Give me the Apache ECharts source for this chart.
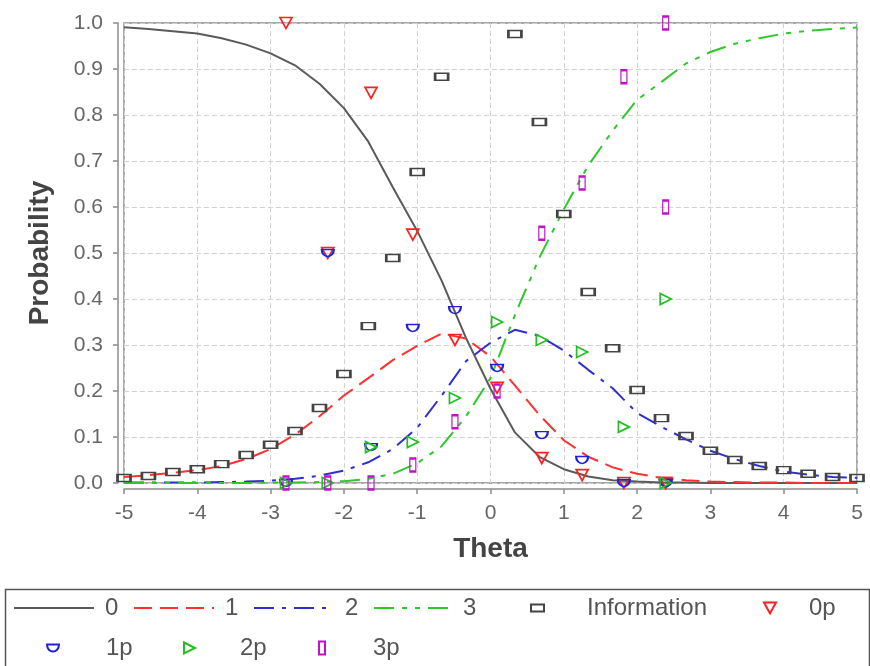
<!DOCTYPE html>
<html>
<head>
<meta charset="utf-8">
<script src="https://cdn.jsdelivr.net/npm/echarts@6/dist/echarts.min.js"></script>
<style>
html,body{margin:0;padding:0;background:#fff;}
#chart{width:870px;height:666px;}
</style>
</head>
<body>
<div id="chart"></div>
<script>
// ---- data ----
const thetaGrid = [-5,-4.667,-4.333,-4,-3.667,-3.333,-3,-2.667,-2.333,-2,-1.667,-1.333,-1,-0.667,-0.333,0,0.333,0.667,1,1.333,1.667,2,2.333,2.667,3,3.333,3.667,4,4.333,4.667,5];
const prob0 = [0.991,0.987,0.982,0.977,0.967,0.953,0.934,0.908,0.868,0.815,0.742,0.643,0.548,0.44,0.315,0.205,0.11,0.057,0.03,0.014,0.006,0.003,0.001,0.001,0,0,0,0,0,0,0];
const prob1 = [0.013,0.017,0.022,0.028,0.037,0.052,0.074,0.105,0.145,0.19,0.228,0.267,0.298,0.325,0.314,0.275,0.212,0.148,0.093,0.057,0.034,0.02,0.011,0.006,0.003,0.002,0.001,0.001,0,0,0];
const prob2 = [0.001,0.001,0.001,0.001,0.002,0.003,0.005,0.009,0.016,0.027,0.045,0.074,0.12,0.19,0.265,0.305,0.333,0.32,0.288,0.246,0.206,0.152,0.122,0.095,0.07,0.052,0.037,0.025,0.018,0.013,0.011];
const prob3 = [0,0,0,0,0,0,0.001,0.001,0.002,0.004,0.009,0.02,0.043,0.08,0.145,0.228,0.365,0.49,0.595,0.69,0.766,0.833,0.872,0.912,0.937,0.955,0.967,0.977,0.983,0.987,0.99];
const information = [0.011,0.015,0.024,0.03,0.041,0.061,0.083,0.113,0.163,0.237,0.341,0.489,0.676,0.883,1.06,1.07,0.976,0.785,0.585,0.415,0.293,0.202,0.141,0.102,0.07,0.05,0.037,0.028,0.02,0.013,0.011];

const groupTheta = [-2.79,-2.22,-1.63,-1.06,-0.485,0.09,0.70,1.25,1.82,2.39,2.39];
const obs0 = [1.0,0.5,0.848,0.54,0.311,0.207,0.054,0.017,0,0,0];
const obs1 = [0,0.5,0.078,0.337,0.376,0.25,0.104,0.05,0,0,0];
const obs2 = [0,0,0.078,0.089,0.185,0.35,0.311,0.285,0.122,0.4,0];
const obs3 = [0,0,0,0.039,0.133,0.2,0.543,0.652,0.883,0.6,1.0];

const xTicks = [-5,-4,-3,-2,-1,0,1,2,3,4,5];
const yTicks = [0,0.1,0.2,0.3,0.4,0.5,0.6,0.7,0.8,0.9,1.0];

// ---- styles ----
const FONT = 'Liberation Sans, Arial, sans-serif';
const pair = (xs, ys) => xs.map((x, i) => [x, ys[i]]);

const SYM = {
  info: 'rect',
  p0: 'path://M0,0 L12,0 L6,11 Z',
  p1: 'path://M0,0 L12,0 C12,4.5 9,7 6,7 C3,7 0,4.5 0,0 Z',
  p2: 'path://M0,0 L11,5.5 L0,11 Z',
  p3: 'rect'
};

function lineSeries(name, data, color, dash, width) {
  return {
    name, type: 'line', data: pair(thetaGrid, data), symbol: 'none', showSymbol: false, smooth: false,
    color, lineStyle: {color, width: width || 2, type: dash}, z: 2, silent: true
  };
}
function scatterSeries(name, xs, ys, symbol, size, color, bw) {
  return {
    name, type: 'scatter', data: pair(xs, ys), symbol, symbolSize: size, clip: true,
    color,
    itemStyle: {color: 'rgba(0,0,0,0)', borderColor: color, borderWidth: bw || 1.7, opacity: 1},
    z: 3, silent: true
  };
}

function legendItem(name, left, centerY, w, h, icon, pad, isLine) {
  const it = {name};
  if (icon) it.icon = icon;
  const lg = {
    data: [it], left, top: centerY - 13, itemWidth: w, itemHeight: h, padding: 0,
    selectedMode: false, orient: 'horizontal',
    formatter: n => '{p|' + n + '}',
    textStyle: {
      fontFamily: FONT, fontSize: 24, color: '#555',
      rich: {p: {fontFamily: FONT, fontSize: 24, color: '#555', padding: [0, 0, 0, pad], height: 26, lineHeight: 26}}
    }
  };
  if (isLine) lg.itemStyle = {color: 'rgba(0,0,0,0)', borderColor: 'rgba(0,0,0,0)', borderWidth: 0, opacity: 0};
  return lg;
}

const chart = echarts.init(document.getElementById('chart'), null, {renderer: 'canvas'});
chart.setOption({
  animation: false,
  backgroundColor: '#fff',
  grid: {left: 124, right: 13, top: 23, bottom: 183, show: true, borderColor: '#8c8c8c', borderWidth: 1.5, backgroundColor: '#fff'},
  xAxis: {
    type: 'value', min: xTicks[0], max: xTicks[xTicks.length - 1], interval: 1, offset: 6,
    name: 'Theta', nameLocation: 'middle', nameGap: 46,
    nameTextStyle: {fontFamily: FONT, fontSize: 28, fontWeight: 'bold', color: '#444'},
    axisLine: {show: true, onZero: false, lineStyle: {color: '#8c8c8c', width: 1.5}},
    axisTick: {show: true, length: 5, lineStyle: {color: '#8c8c8c', width: 1.5}},
    axisLabel: {margin: 14, fontFamily: FONT, fontSize: 21, color: '#666'},
    splitLine: {show: true, lineStyle: {color: '#d2d2d2', width: 1, type: [5, 3]}}
  },
  yAxis: {
    type: 'value', min: yTicks[0], max: yTicks[yTicks.length - 1], interval: 0.1, offset: 6,
    name: 'Probability', nameLocation: 'middle', nameGap: 64,
    nameTextStyle: {fontFamily: FONT, fontSize: 28, fontWeight: 'bold', color: '#444'},
    axisLine: {show: true, onZero: false, lineStyle: {color: '#8c8c8c', width: 1.5}},
    axisTick: {show: true, length: 5, lineStyle: {color: '#8c8c8c', width: 1.5}},
    axisLabel: {margin: 15, fontFamily: FONT, fontSize: 21, color: '#666', formatter: v => v.toFixed(1)},
    splitLine: {show: true, lineStyle: {color: '#d2d2d2', width: 1, type: [5, 3]}}
  },
  legend: [
    legendItem('0', 13, 608, 80, 14, null, 6, true),
    legendItem('1', 133, 608, 80, 14, null, 6, true),
    legendItem('2', 253, 608, 80, 14, null, 6, true),
    legendItem('3', 373, 608, 80, 14, null, 4, true),
    legendItem('Information', 530, 608, 13, 7, SYM.info, 38),
    legendItem('0p', 763, 608, 12, 11, SYM.p0, 28),
    legendItem('1p', 46, 648, 12, 7, SYM.p1, 42),
    legendItem('2p', 183, 648, 11, 11, SYM.p2, 40),
    legendItem('3p', 318, 648, 6, 13, SYM.p3, 43)
  ],
  graphic: [{
    type: 'rect', left: 3, top: 587, shape: {width: 864, height: 90},
    style: {fill: 'none', stroke: '#555', lineWidth: 1.5}, silent: true, z: -1
  }],
  series: [
    lineSeries('0', prob0, '#5a5a5a', 'solid', 2),
    lineSeries('1', prob1, '#ff3030', [18, 8], 2),
    lineSeries('2', prob2, '#2f2fd0', [20, 8, 4, 8], 2),
    lineSeries('3', prob3, '#2ec82e', [20, 8, 5, 8, 5, 8], 2),
    scatterSeries('Information', thetaGrid, information, SYM.info, [13, 7], '#444', 2),
    scatterSeries('0p', groupTheta, obs0, SYM.p0, [12, 11], '#ff2020'),
    scatterSeries('1p', groupTheta, obs1, SYM.p1, [12, 7], '#2020d8'),
    scatterSeries('2p', groupTheta, obs2, SYM.p2, [11, 11], '#20c020'),
    scatterSeries('3p', groupTheta, obs3, SYM.p3, [6, 13], '#c010c8')
  ]
});
</script>
</body>
</html>
